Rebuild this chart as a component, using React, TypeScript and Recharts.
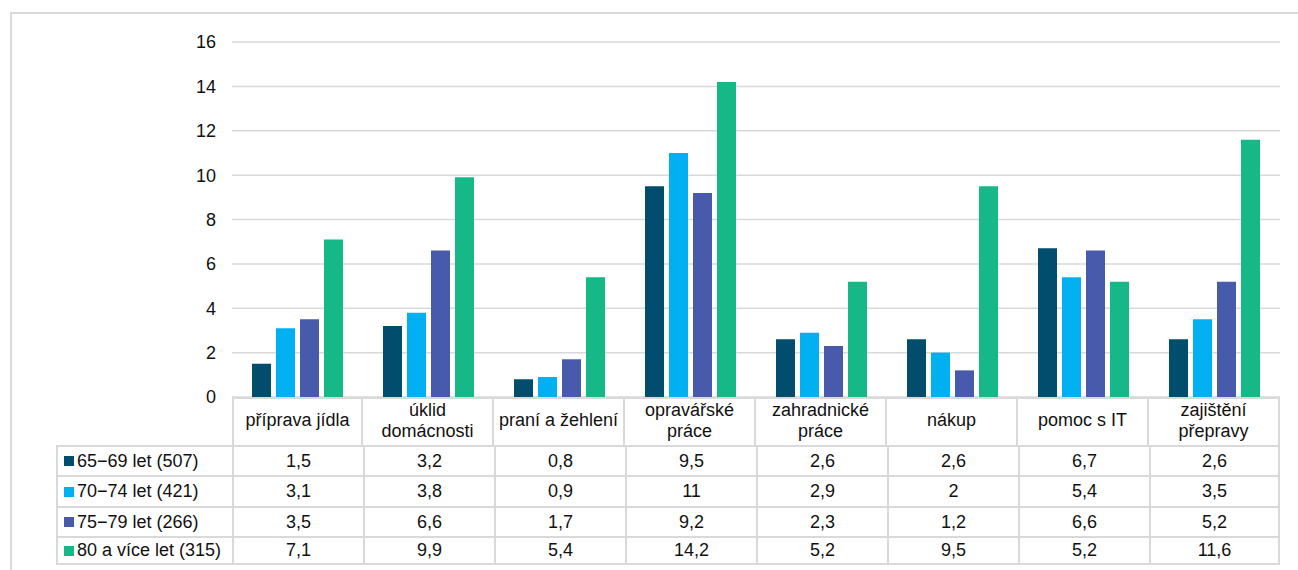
import React from "react";
import { BarChart, Bar, XAxis, YAxis, CartesianGrid } from "recharts";

// categories of help and share of respondents (%) per age group
const categories = [
  "příprava jídla",
  "úklid domácnosti",
  "praní a žehlení",
  "opravářské práce",
  "zahradnické práce",
  "nákup",
  "pomoc s IT",
  "zajištění přepravy",
];
const headerLines = [
  ["příprava jídla"],
  ["úklid", "domácnosti"],
  ["praní a žehlení"],
  ["opravářské", "práce"],
  ["zahradnické", "práce"],
  ["nákup"],
  ["pomoc s IT"],
  ["zajištění", "přepravy"],
];
const age6569 = [1.5, 3.2, 0.8, 9.5, 2.6, 2.6, 6.7, 2.6];
const age7074 = [3.1, 3.8, 0.9, 11, 2.9, 2, 5.4, 3.5];
const age7579 = [3.5, 6.6, 1.7, 9.2, 2.3, 1.2, 6.6, 5.2];
const age80 = [7.1, 9.9, 5.4, 14.2, 5.2, 9.5, 5.2, 11.6];
const yTicks = [0, 2, 4, 6, 8, 10, 12, 14, 16];

const series = [
  { key: "a", name: "65−69 let (507)", color: "#004d6e", values: age6569 },
  { key: "b", name: "70−74 let (421)", color: "#00b0f0", values: age7074 },
  { key: "c", name: "75−79 let (266)", color: "#475aab", values: age7579 },
  { key: "d", name: "80 a více let (315)", color: "#16b888", values: age80 },
];

const data = categories.map((c, i) => {
  const row: Record<string, string | number> = { name: c };
  series.forEach((s) => (row[s.key] = s.values[i]));
  return row;
});

const FONT = "'Liberation Sans', Arial, sans-serif";
const FS = 18;
const GRID = "#d9d9d9";
const PLOT_LEFT = 232;
const PLOT_RIGHT = 1280;
const PLOT_TOP = 42;
const PLOT_BOTTOM = 397;
const LEGEND_LEFT = 56;
const COL_W = (PLOT_RIGHT - PLOT_LEFT) / categories.length;
const ROW_TOPS = [445, 475, 506, 536, 565];

const fmt = (v: number) => String(v).replace(".", ",");

function DataTable() {
  const cells: React.ReactNode[] = [];
  // header cells with category names
  headerLines.forEach((lines, i) => {
    cells.push(
      <div
        key={`h${i}`}
        style={{
          position: "absolute",
          left: PLOT_LEFT + i * COL_W,
          top: PLOT_BOTTOM,
          width: COL_W,
          height: ROW_TOPS[0] - PLOT_BOTTOM,
          boxSizing: "border-box",
          border: `2px solid ${GRID}`,
          borderLeftWidth: i === 0 ? 2 : 0,
          borderBottomWidth: 0,
          display: "flex",
          flexDirection: "column",
          alignItems: "center",
          justifyContent: "center",
          lineHeight: "21px",
          paddingBottom: 3,
        }}
      >
        {lines.map((l) => (
          <span key={l}>{l}</span>
        ))}
      </div>
    );
  });
  series.forEach((s, r) => {
    const top = ROW_TOPS[r];
    const h = ROW_TOPS[r + 1] - top;
    cells.push(
      <div
        key={`l${r}`}
        style={{
          position: "absolute",
          left: LEGEND_LEFT,
          top,
          width: PLOT_LEFT - LEGEND_LEFT,
          height: h,
          boxSizing: "border-box",
          border: `2px solid ${GRID}`,
          borderBottomWidth: r === series.length - 1 ? 2 : 0,
          borderRightWidth: 0,
          display: "flex",
          alignItems: "center",
          paddingLeft: 6,
          whiteSpace: "nowrap",
        }}
      >
        <span
          style={{
            display: "inline-block",
            width: 10,
            height: 10,
            background: s.color,
            marginRight: 3,
          }}
        />
        {s.name}
      </div>
    );
    s.values.forEach((v, i) => {
      cells.push(
        <div
          key={`c${r}-${i}`}
          style={{
            position: "absolute",
            left: PLOT_LEFT + i * COL_W,
            top,
            width: COL_W,
            height: h,
            boxSizing: "border-box",
            border: `2px solid ${GRID}`,
            borderBottomWidth: r === series.length - 1 ? 2 : 0,
            borderRightWidth: i === categories.length - 1 ? 2 : 0,
            display: "flex",
            alignItems: "center",
            justifyContent: "center",
          }}
        >
          {fmt(v)}
        </div>
      );
    });
  });
  return <>{cells}</>;
}

export default function App() {
  return (
    <div
      style={{
        position: "absolute",
        left: 0,
        top: 0,
        width: 1298,
        height: 570,
        overflow: "hidden",
        background: "#fff",
        fontFamily: FONT,
        fontSize: FS,
        color: "#111",
      }}
    >
      <div
        style={{
          position: "absolute",
          left: 10,
          top: 12,
          width: 1300,
          height: 600,
          border: `2px solid ${GRID}`,
        }}
      />
      <div style={{ position: "absolute", left: 0, top: 0 }}>
        <BarChart
          width={1298}
          height={570}
          data={data}
          margin={{ top: PLOT_TOP, right: 1298 - PLOT_RIGHT, left: PLOT_LEFT - 60, bottom: 570 - PLOT_BOTTOM }}
          barSize={19}
          barGap={5}
          barCategoryGap={20}
        >
          <CartesianGrid vertical={false} stroke={GRID} strokeWidth={1.5} />
          <XAxis dataKey="name" hide />
          <YAxis
            width={60}
            domain={[0, 16]}
            ticks={yTicks}
            interval={0}
            axisLine={false}
            tickLine={false}
            tickMargin={10}
            tick={{ fill: "#111", fontSize: FS, fontFamily: FONT }}
          />
          {series.map((s) => (
            <Bar key={s.key} dataKey={s.key} name={s.name} fill={s.color} isAnimationActive={false} />
          ))}
        </BarChart>
      </div>
      <DataTable />
    </div>
  );
}
